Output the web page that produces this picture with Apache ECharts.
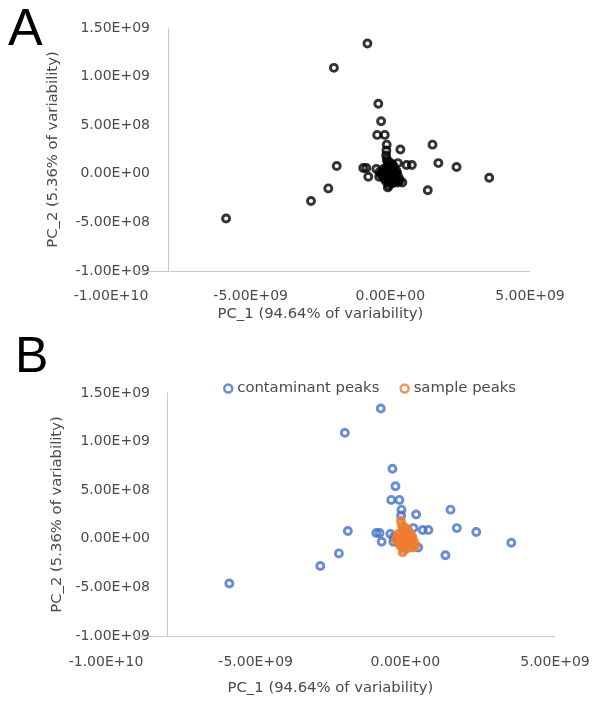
<!DOCTYPE html>
<html>
<head>
<meta charset="utf-8">
<script src="https://cdn.jsdelivr.net/npm/echarts@6/dist/echarts.min.js"></script>
<style>
  html, body { margin: 0; padding: 0; background: #ffffff; }
  #chart { width: 601px; height: 706px; }
</style>
</head>
<body>
<div id="chart"></div>
<script>
// ---------------- DATA ----------------
const seriesNames = ['contaminant peaks', 'sample peaks'];
const xAxisTitle = 'PC_1 (94.64% of variability)';
const yAxisTitle = 'PC_2 (5.36% of variability)';
const panelLetters = ['A', 'B'];

// tick values (axis label positions)
const xTicks = [-1.0e10, -5.0e9, 0, 5.0e9];
const yTicks = [-1.0e9, -5.0e8, 0, 5.0e8, 1.0e9, 1.5e9];
const yAxisCrossX = -8.0e9;     // where the vertical axis crosses the horizontal one
const xAxisLineStart = -9.1e9;  // horizontal axis line starts here

// contaminant peaks (PC_1, PC_2)
const contaminantPC1 = [-0.82e9, -2.02e9, -0.43e9, -0.33e9, -0.47e9, -0.20e9, -0.13e9, -0.14e9, 0.36e9, 1.51e9,
  1.72e9, 2.37e9, 3.54e9, 1.34e9, -1.92e9, -2.22e9, -2.84e9, -5.88e9, -0.97e9, -0.86e9,
  -0.79e9, -0.50e9, 0.58e9, 0.77e9, 0.27e9, 0.43e9, -0.38e9, -0.27e9, -0.40e9];
const contaminantPC2 = [1.34e9, 1.09e9, 0.72e9, 0.54e9, 0.40e9, 0.40e9, 0.30e9, 0.24e9, 0.25e9, 0.30e9,
  0.11e9, 0.07e9, -0.04e9, -0.17e9, 0.08e9, -0.15e9, -0.28e9, -0.46e9, 0.06e9, 0.06e9,
  -0.03e9, 0.05e9, 0.09e9, 0.09e9, 0.11e9, -0.09e9, 0.02e9, -0.02e9, -0.03e9];

// sample peaks (PC_1, PC_2)
const samplePC1 = [-0.15e9, -0.13e9, -0.10e9, -0.08e9, -0.12e9, -0.05e9, 0.02e9, 0.08e9, 0.15e9, 0.22e9,
  -0.20e9, -0.28e9, -0.32e9, -0.18e9, -0.06e9, 0.05e9, 0.12e9, 0.25e9, 0.30e9, 0.34e9,
  0.20e9, 0.10e9, -0.02e9, -0.10e9, -0.22e9, -0.15e9, -0.05e9, -0.06e9, 0.04e9, 0.15e9,
  0.00e9, -0.03e9, 0.06e9, 0.12e9, -0.25e9, 0.18e9, 0.27e9, -0.09e9];
const samplePC2 = [0.19e9, 0.15e9, 0.12e9, 0.09e9, 0.07e9, 0.06e9, 0.08e9, 0.05e9, 0.04e9, 0.03e9,
  0.03e9, 0.01e9, -0.01e9, -0.02e9, 0.00e9, -0.01e9, -0.02e9, 0.00e9, -0.04e9, -0.07e9,
  -0.06e9, -0.05e9, -0.05e9, -0.04e9, -0.05e9, -0.08e9, -0.09e9, -0.12e9, -0.10e9, -0.09e9,
  0.03e9, 0.12e9, 0.10e9, 0.08e9, 0.05e9, 0.01e9, -0.09e9, -0.14e9];

// ---------------- STYLE ----------------
const FONT = "'DejaVu Sans', 'Liberation Sans', Arial, sans-serif";
const TEXT_COLOR = '#4a4a4a';
const AXIS_COLOR = '#c9c9c9';
const BLUE = '#4472C4';
const ORANGE = '#ED7D31';
const TICK_SIZE = 14;
const TITLE_SIZE = 14.8;

function pairs(xs, ys) { return xs.map((x, i) => [x, ys[i]]); }
function sci(v) {
  const s = Number(v).toExponential(2);
  const parts = s.split('e');
  const sign = parts[1][0];
  const d = parts[1].slice(1).padStart(2, '0');
  return parts[0] + 'E' + sign + d;
}

const xMin = xTicks[0], xMax = xTicks[xTicks.length - 1], xInt = xTicks[1] - xTicks[0];
const yMin = yTicks[0], yMax = yTicks[yTicks.length - 1], yInt = yTicks[1] - yTicks[0];

const panels = [
  { left: 111, right: 71, top: 28, height: 243, yOffset: -57, yLabelMargin: 18, yNameGap: 107, xLabelMargin: 18, xNameGap: 36 },
  { left: 106, right: 46, top: 393, height: 243, yOffset: -61, yLabelMargin: 17, yNameGap: 102, xLabelMargin: 19, xNameGap: 45 }
];

const chart = echarts.init(document.getElementById('chart'), null, { renderer: 'canvas' });

const grids = panels.map(p => ({ left: p.left, right: p.right, top: p.top, height: p.height, containLabel: false }));

const xAxes = panels.map((p, i) => ({
  type: 'value', gridIndex: i, min: xMin, max: xMax, interval: xInt,
  axisLine: { show: false, onZero: false },
  axisTick: { show: false },
  splitLine: { show: false },
  axisLabel: { margin: p.xLabelMargin, color: TEXT_COLOR, fontFamily: FONT, fontSize: TICK_SIZE, formatter: sci, showMinLabel: true, showMaxLabel: true },
  name: xAxisTitle, nameLocation: 'middle', nameGap: p.xNameGap,
  nameTextStyle: { color: TEXT_COLOR, fontFamily: FONT, fontSize: TITLE_SIZE }
}));

const yAxes = panels.map((p, i) => ({
  type: 'value', gridIndex: i, min: yMin, max: yMax, interval: yInt,
  offset: p.yOffset,
  axisLine: { show: true, onZero: false, lineStyle: { color: AXIS_COLOR, width: 1 } },
  axisTick: { show: false },
  splitLine: { show: false },
  axisLabel: { margin: p.yLabelMargin, color: TEXT_COLOR, fontFamily: FONT, fontSize: TICK_SIZE, formatter: sci },
  name: yAxisTitle, nameLocation: 'middle', nameGap: p.yNameGap,
  nameTextStyle: { color: TEXT_COLOR, fontFamily: FONT, fontSize: TITLE_SIZE }
}));

function ring(color) {
  return { color: 'rgba(0,0,0,0)', borderColor: color, borderWidth: 2.9 };
}
const axisMarkLine = {
  silent: true, symbol: 'none', label: { show: false }, animation: false,
  lineStyle: { color: AXIS_COLOR, width: 1, type: 'solid' },
  data: [[{ coord: [xAxisLineStart, yMin] }, { coord: [xMax, yMin] }]]
};

const series = [
  { name: seriesNames[0] + ' (A)', type: 'scatter', xAxisIndex: 0, yAxisIndex: 0, symbol: 'circle', symbolSize: 7,
    itemStyle: ring('#000000'), data: pairs(contaminantPC1, contaminantPC2), markLine: axisMarkLine },
  { name: seriesNames[1] + ' (A)', type: 'scatter', xAxisIndex: 0, yAxisIndex: 0, symbol: 'circle', symbolSize: 7,
    itemStyle: ring('#000000'), data: pairs(samplePC1, samplePC2) },
  { name: seriesNames[0], type: 'scatter', xAxisIndex: 1, yAxisIndex: 1, symbol: 'circle', symbolSize: 7,
    itemStyle: ring(BLUE), data: pairs(contaminantPC1, contaminantPC2), markLine: axisMarkLine },
  { name: seriesNames[1], type: 'scatter', xAxisIndex: 1, yAxisIndex: 1, symbol: 'circle', symbolSize: 7,
    itemStyle: ring(ORANGE), data: pairs(samplePC1, samplePC2) }
];

chart.setOption({
  animation: false,
  backgroundColor: '#ffffff',
  grid: grids,
  xAxis: xAxes,
  yAxis: yAxes,
  legend: {
    left: 218, top: 376, itemWidth: 8, itemHeight: 8, itemGap: 20, selectedMode: false,
    textStyle: { color: TEXT_COLOR, fontFamily: FONT, fontSize: TITLE_SIZE },
    data: [
      { name: seriesNames[0], icon: 'circle', itemStyle: { color: 'rgba(0,0,0,0)', borderColor: BLUE, borderWidth: 2.5 } },
      { name: seriesNames[1], icon: 'circle', itemStyle: { color: 'rgba(0,0,0,0)', borderColor: ORANGE, borderWidth: 2.5 } }
    ]
  },
  graphic: [
    { type: 'text', left: 8, top: 5, style: { text: panelLetters[0], fontSize: 52, fontFamily: "'Liberation Sans', Arial, sans-serif", fill: '#000000' } },
    { type: 'text', left: 15, top: 333, style: { text: panelLetters[1], fontSize: 50, fontFamily: "'Liberation Sans', Arial, sans-serif", fill: '#000000' } }
  ],
  series: series
});
</script>
</body>
</html>
